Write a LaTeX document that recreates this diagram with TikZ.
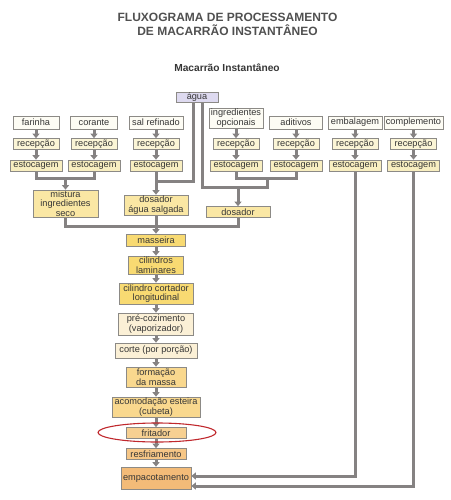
\documentclass[tikz,border=0pt]{standalone}
\usepackage{fontspec}
\setmainfont{Liberation Sans}
\usetikzlibrary{arrows.meta,backgrounds,shapes.geometric}
\definecolor{lg}{HTML}{858282}
\definecolor{bd}{HTML}{8C8A86}
\definecolor{txt}{HTML}{363636}
\definecolor{ttl}{HTML}{505050}
\definecolor{cAgua}{HTML}{DEDAF0}
\definecolor{cTop}{HTML}{FDFCF4}
\definecolor{cRec}{HTML}{FBF5D6}
\definecolor{cEst}{HTML}{F8EEC0}
\definecolor{cMix}{HTML}{FAE7A4}
\definecolor{cYel}{HTML}{F8DA72}
\definecolor{cLight}{HTML}{FBF0D6}
\definecolor{cOr1}{HTML}{F9D88E}
\definecolor{cOr2}{HTML}{F7D092}
\definecolor{cOr3}{HTML}{F6C686}
\definecolor{cOr4}{HTML}{F3BB78}
\definecolor{red1}{HTML}{C0282D}
\begin{document}
\begin{tikzpicture}[x=1pt,y=-1pt,
  box/.style={draw=bd, line width=0.7pt, inner sep=0pt, align=center,
    font=\fontsize{9.2}{9.6}\selectfont, text=txt},
  sz/.style 2 args={minimum width=#1pt, minimum height=#2pt},
  conn/.style={draw=lg, line width=3pt, line cap=rect},
  arr/.style={draw=lg, line width=3pt, -{Triangle[width=7pt,length=4.5pt]}},
]
\path[use as bounding box] (0,0) rectangle (450,500);

% titles
\node (title) at (227.5,24) [align=center, text=ttl, font=\fontsize{12}{14}\bfseries\selectfont]
  {FLUXOGRAMA DE PROCESSAMENTO\\DE MACARRÃO INSTANTÂNEO};
\node (sub) at (227,68) [text=txt, font=\fontsize{10.2}{11}\bfseries\selectfont] {Macarrão Instantâneo};

% water
\node[box, sz={42}{10}, fill=cAgua] (agua) at (197,97.5) {água};

% row 1
\node[box, sz={46}{13}, fill=cTop] (t1) at (36,122.5) {farinha};
\node[box, sz={47}{13}, fill=cTop] (t2) at (94,122.5) {corante};
\node[box, sz={54}{13}, fill=cTop] (t3) at (156,122.5) {sal refinado};
\node[box, sz={54}{20}, fill=cTop] (t4) at (236,118) {ingredientes\\opcionais};
\node[box, sz={53}{13}, fill=cTop] (t5) at (296,122.5) {aditivos};
\node[box, sz={54}{13}, fill=cTop] (t6) at (355,122.5) {embalagem};
\node[box, sz={59}{13}, fill=cTop] (t7) at (413.5,122.5) {complemento};

% row 2
\foreach \i/\x in {1/36,2/94,3/156,4/236,5/296,6/355,7/413.5}{
  \node[box, sz={46}{11}, fill=cRec] (r\i) at (\x,144) {recepção};
  \node[box, sz={52}{11}, fill=cEst] (e\i) at (\x,165.5) {estocagem};
}

% mixing
\node[box, sz={65}{27}, fill=cMix] (mix) at (65.5,203.5) {mistura\\ingredientes\\seco};
\node[box, sz={64}{20}, fill=cMix] (dsal) at (156,205) {dosador\\água salgada};
\node[box, sz={64}{11}, fill=cMix] (dos) at (238,212) {dosador};

% main line
\node[box, sz={59}{12}, fill=cYel] (mas) at (156,240) {masseira};
\node[box, sz={55}{18}, fill=cYel] (cil) at (156,265) {cilindros\\laminares};
\node[box, sz={74}{21}, fill=cYel] (cort) at (156,293.5) {cilindro cortador\\longitudinal};
\node[box, sz={75}{22}, fill=cLight] (pre) at (156,324) {pré-cozimento\\(vaporizador)};
\node[box, sz={82}{15}, fill=cLight] (corte) at (156,350.5) {corte (por porção)};
\node[box, sz={60}{20}, fill=cOr1] (form) at (156,377) {formação\\da massa};
\node[box, sz={88}{20}, fill=cOr1] (acom) at (156,407) {acomodação esteira\\(cubeta)};
\node[box, sz={60}{11}, fill=cOr2] (frit) at (156,433) {fritador};
\node[box, sz={60}{11}, fill=cOr3] (resf) at (156,454) {resfriamento};
\node[box, sz={70}{22}, fill=cOr4] (emp) at (156,478) {empacotamento};

\node[draw=red1, line width=1.1pt, ellipse, minimum width=118pt, minimum height=19pt, inner sep=0pt] (ell) at (157,432.5) {};

% junction coordinates
\coordinate (j1) at (65.5,178);
\coordinate (jA) at (156,181);
\coordinate (jB) at (267,187);
\coordinate (jC) at (267,178);
\coordinate (jD) at (156,226);

\begin{scope}[on background layer]
  \foreach \i in {1,...,7}{
    \draw[arr] (t\i.south) -- (r\i.north);
    \draw[arr] (r\i.south) -- (e\i.north);
  }
  \draw[conn] (e1.south) |- (j1) -| (e2.south);
  \draw[arr] (j1) -- (mix.north);
  \draw[arr] (e3.south) -- (dsal.north);
  \draw[conn] ([xshift=-4pt]agua.south) |- (jA);
  \draw[conn] ([xshift=5pt]agua.south) |- (jB) -- (jC);
  \draw[conn] (e4.south) |- (jC) -| (e5.south);
  \draw[arr] (dos.north |- jB) -- (dos.north);
  \draw[conn] (mix.south) |- (jD);
  \draw[conn] (dos.south) |- (jD);
  \draw[arr] (dsal.south) -- (mas.north);
  \draw[arr] (mas) -- (cil);
  \draw[arr] (cil) -- (cort);
  \draw[arr] (cort) -- (pre);
  \draw[arr] (pre) -- (corte);
  \draw[arr] (corte) -- (form);
  \draw[arr] (form) -- (acom);
  \draw[arr] (acom) -- (frit);
  \draw[arr] (frit) -- (resf);
  \draw[arr] (resf) -- (emp);
  \draw[arr] (e6.south) |- ([yshift=2pt]emp.east);
  \draw[arr] (e7.south) |- ([yshift=-8pt]emp.east);
\end{scope}
\end{tikzpicture}
\end{document}
